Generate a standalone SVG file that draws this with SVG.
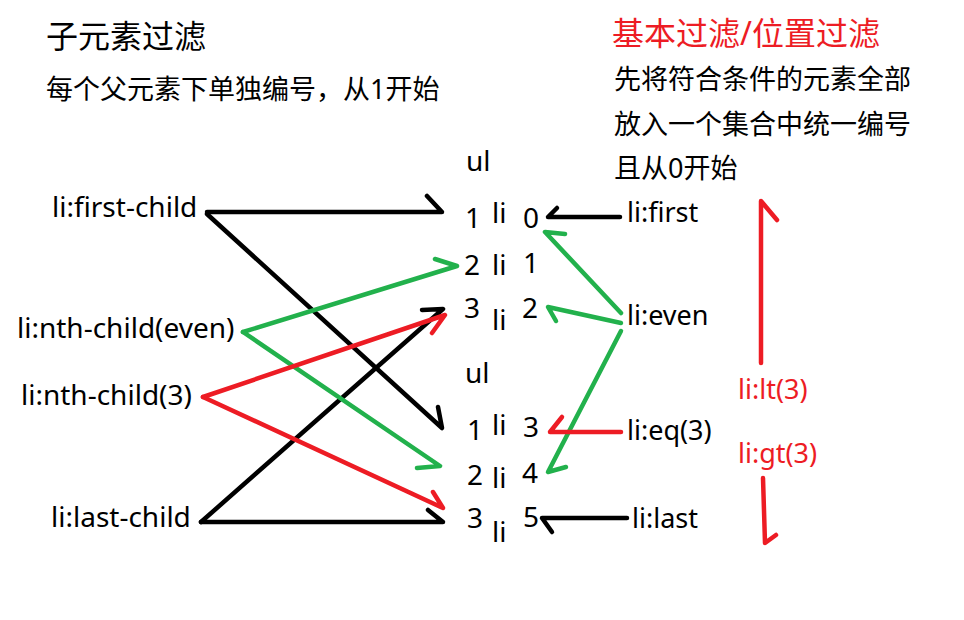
<svg xmlns="http://www.w3.org/2000/svg" width="964" height="620" viewBox="0 0 964 620">
<style>
text{font-family:"Noto Sans","Noto Sans CJK SC",sans-serif;fill:#000}
.t{font-size:32px}
.s{font-size:27px}
.l{font-size:28px}
.rl{font-size:27px}
.m{font-size:28px}
.red{fill:#ED1C24}
.k,.g,.r{fill:none;stroke-width:4.5;stroke-linecap:round;stroke-linejoin:round}
.k{stroke:#000}.g{stroke:#22B14C}.r{stroke:#ED1C24}
</style>
<rect width="964" height="620" fill="#fff"/>
<g id="titles">
<text class="t" x="46" y="48">子元素过滤</text>
<text class="s" x="46" y="99">每个父元素下单独编号，从1开始</text>
<text class="t red" x="612" y="45">基本过滤/位置过滤</text>
<text class="s" x="614" y="89">先将符合条件的元素全部</text>
<text class="s" x="614" y="134">放入一个集合中统一编号</text>
<text class="s" x="614" y="178">且从0开始</text>
</g>
<g id="left-labels">
<g id="first-child"><text class="l" x="52" y="217">li:first-child</text></g>
<g id="nth-even"><text class="l" x="17" y="338">li:nth-child(even)</text></g>
<g id="nth-3"><text class="l" x="21" y="405">li:nth-child(3)</text></g>
<g id="last-child"><text class="l" x="51" y="527">li:last-child</text></g>
</g>
<g id="ul1">
<text class="m" x="466" y="171">ul</text>
<text class="m" x="465" y="228">1</text><text class="m" x="492" y="223">li</text><text class="m" x="523" y="228">0</text>
<text class="m" x="464" y="275">2</text><text class="m" x="492" y="275">li</text><text class="m" x="523" y="273">1</text>
<text class="m" x="464" y="318">3</text><text class="m" x="492" y="330">li</text><text class="m" x="522" y="318">2</text>
</g>
<g id="ul2">
<text class="m" x="465" y="383">ul</text>
<text class="m" x="467" y="440">1</text><text class="m" x="492" y="435">li</text><text class="m" x="523" y="437">3</text>
<text class="m" x="467" y="485">2</text><text class="m" x="492" y="488">li</text><text class="m" x="522" y="483">4</text>
<text class="m" x="467" y="528">3</text><text class="m" x="492" y="542">li</text><text class="m" x="523" y="527">5</text>
</g>
<g id="right-labels">
<g id="first"><text class="rl" x="627" y="222">li:first</text></g>
<g id="even"><text class="rl" x="627" y="325">li:even</text></g>
<g id="eq3"><text class="rl" x="627" y="440">li:eq(3)</text></g>
<g id="last"><text class="rl" x="632" y="528">li:last</text></g>
<g id="lt3"><text class="rl red" x="738" y="399">li:lt(3)</text></g>
<g id="gt3"><text class="rl red" x="738" y="463">li:gt(3)</text></g>
</g>
<g id="connectors">
<path class="k" d="M207 212H442L427 196"/>
<path class="k" d="M207 214L442 428L438 407"/>
<path class="k" d="M201 522L443 309L422 310"/>
<path class="k" d="M201 522H443L428 510"/>
<path class="k" d="M620 217H548L557 208"/>
<path class="k" d="M627 518H542L552 532"/>
<path class="g" d="M243 332L457 266L435 259"/>
<path class="g" d="M243 332L440 466L417 468"/>
<path class="g" d="M621 313L545 232L565 234"/>
<path class="g" d="M621 323L548 307L556 321"/>
<path class="g" d="M621 331L548 472L566 467"/>
<path class="r" d="M203 397L445 315L432 333"/>
<path class="r" d="M203 397L443 508L433 492"/>
<path class="r" d="M621 432H550L562 417"/>
<path class="r" d="M761 363V201L777 220"/>
<path class="r" d="M763 478L765 543L776 535"/>
</g>
</svg>
